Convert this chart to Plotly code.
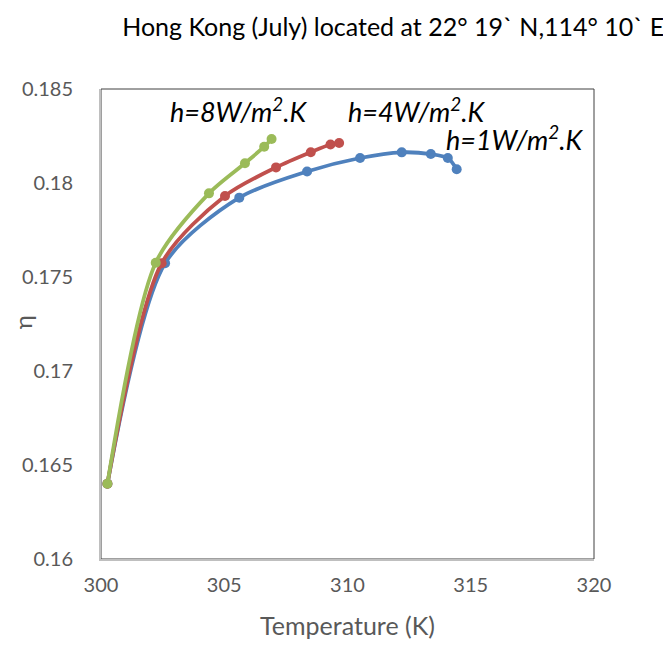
import plotly.graph_objects as go

# Data
t_h1 = [300.26, 302.60, 305.61, 308.36, 310.51, 312.20, 313.38, 314.07, 314.43]
eta_h1 = [0.1640, 0.17573, 0.17922, 0.18061, 0.18133, 0.18163, 0.18154, 0.18133, 0.18073]

t_h4 = [300.26, 302.46, 305.03, 307.10, 308.51, 309.31, 309.66]
eta_h4 = [0.1640, 0.17573, 0.17931, 0.18083, 0.18164, 0.18205, 0.18213]

t_h8 = [300.26, 302.22, 304.38, 305.84, 306.62, 306.92]
eta_h8 = [0.1640, 0.17576, 0.17945, 0.18105, 0.18193, 0.18234]

series_names = ["h=1W/m<sup>2</sup>.K", "h=4W/m<sup>2</sup>.K", "h=8W/m<sup>2</sup>.K"]
colors = ["#4F81BD", "#C0504D", "#9BBB59"]

x_ticks = [300, 305, 310, 315, 320]
y_ticks = [0.16, 0.165, 0.17, 0.175, 0.18, 0.185]
y_tick_text = ["0.16", "0.165", "0.17", "0.175", "0.18", "0.185"]

label_pos = [(316.8, 0.18240), (312.8, 0.18388), (305.6, 0.18388)]

FONT = "Lato, 'Open Sans', sans-serif"
GRAY = "#595959"

fig = go.Figure()
for xs, ys, name, c in zip([t_h1, t_h4, t_h8], [eta_h1, eta_h4, eta_h8], series_names, colors):
    fig.add_trace(go.Scatter(
        x=xs, y=ys, mode="lines+markers", name=name,
        line=dict(color=c, width=3.8, shape="spline", smoothing=0.8),
        marker=dict(color=c, size=10),
        showlegend=False,
    ))

for name, (lx, ly) in zip(series_names, label_pos):
    fig.add_annotation(x=lx, y=ly, xref="x", yref="y", text="<i>" + name + "</i>",
                       showarrow=False, font=dict(family=FONT, size=27, color="#000000"))

fig.add_annotation(x=-0.160, y=0.504, xref="paper", yref="paper", text="η",
                   textangle=-90, showarrow=False, xanchor="center", yanchor="middle",
                   font=dict(family=FONT, size=24, color=GRAY))

fig.add_shape(type="rect", xref="paper", yref="paper", x0=0, y0=0, x1=1, y1=1,
              line=dict(color="#404040", width=1), layer="below")

fig.update_layout(
    width=663, height=637,
    margin=dict(l=93, r=77, t=81, b=86, autoexpand=False),
    paper_bgcolor="white", plot_bgcolor="white",
    font=dict(family=FONT, color=GRAY, size=20),
    title=dict(text="Hong Kong (July) located at 22° 19` N,114° 10` E",
               x=0.581, xanchor="center", y=0.970, yanchor="middle",
               font=dict(family=FONT, size=25, color="#000000")),
)
fig.update_xaxes(range=[300, 320], tickvals=x_ticks, showgrid=False, zeroline=False,
                 showline=True, linecolor="#BFBFBF", linewidth=2, ticks="",
                 ticklabelstandoff=7, automargin=False,
                 tickfont=dict(size=20, color=GRAY),
                 title=dict(text="Temperature (K)", font=dict(size=25, color=GRAY), standoff=22))
fig.update_yaxes(range=[0.16, 0.185], tickvals=y_ticks, ticktext=y_tick_text, showgrid=False,
                 zeroline=False, showline=True, linecolor="#BFBFBF", linewidth=2, ticks="",
                 ticklabelstandoff=22, automargin=False,
                 tickfont=dict(size=20, color=GRAY))

fig.write_html("out.html")
